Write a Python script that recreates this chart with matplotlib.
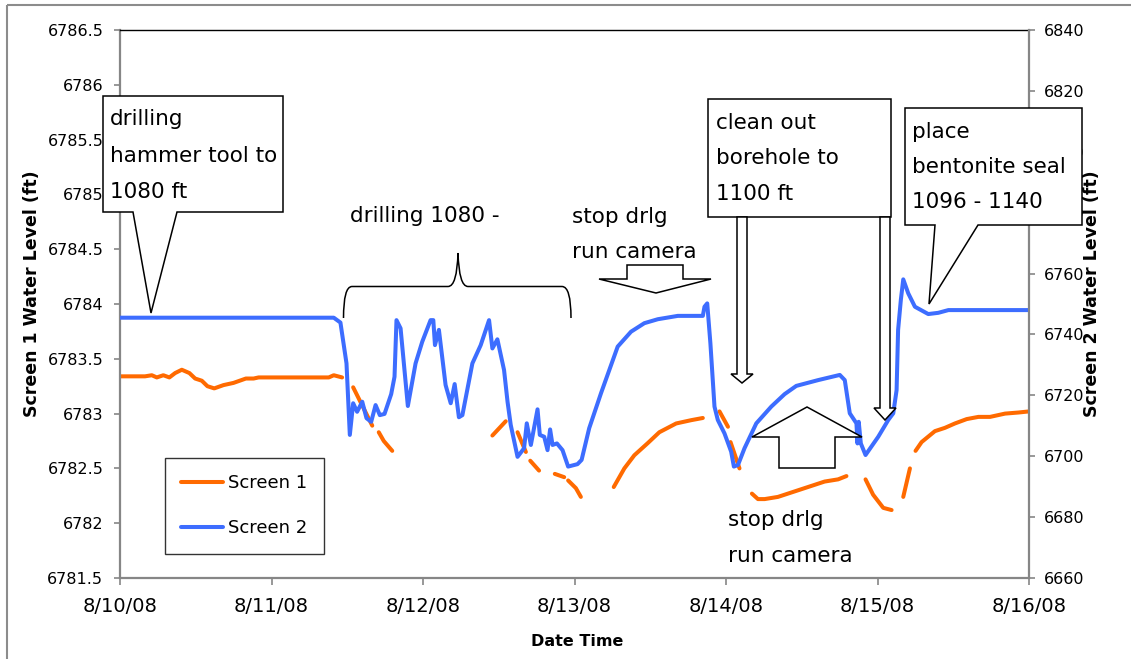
import matplotlib
matplotlib.use('Agg')
import matplotlib.pyplot as plt
import matplotlib.transforms as mtransforms
from matplotlib.patches import Polygon, Rectangle, PathPatch
from matplotlib.path import Path
from matplotlib.ticker import FuncFormatter
import numpy as np
import pandas as pd

# days since 8/10/08 00:00 and water levels
s1_day = [0.000, 0.165, 0.210, 0.243, 0.286, 0.326, 0.364, 0.408, 0.458, 0.496,
          0.540, 0.577, 0.622, 0.683, 0.749, 0.831, 0.882, 0.915, 1.378, 1.411,
          1.466, 1.50, 1.539, 1.665, 1.69, 1.708, 1.741, 1.797, 2.0, 2.458,
          2.546, 2.58, 2.624, 2.679, 2.69, 2.708, 2.766, 2.80, 2.870, 2.932,
          2.94, 2.958, 3.009, 3.042, 3.10, 3.259, 3.329, 3.395, 3.483, 3.560,
          3.671, 3.770, 3.847, 3.90, 3.957, 4.013, 4.02, 4.030, 4.089, 4.13,
          4.171, 4.211, 4.255, 4.343, 4.475, 4.563, 4.651, 4.740, 4.795, 4.85,
          4.921, 4.971, 5.038, 5.093, 5.13, 5.170, 5.214, 5.23, 5.251, 5.291,
          5.379, 5.445, 5.511, 5.589, 5.666, 5.743, 5.842, 5.931, 6.000]
s1_level = [6783.34, 6783.34, 6783.35, 6783.33, 6783.35, 6783.33, 6783.37, 6783.40, 6783.37, 6783.32,
            6783.30, 6783.25, 6783.23, 6783.26, 6783.28, 6783.32, 6783.32, 6783.33, 6783.33, 6783.35,
            6783.33, None, 6783.24, 6782.89, None, 6782.83, 6782.75, 6782.66, None, 6782.80,
            6782.93, None, 6782.83, 6782.65, None, 6782.57, 6782.48, None, 6782.45, 6782.42,
            None, 6782.39, 6782.32, 6782.24, None, 6782.33, 6782.50, 6782.62, 6782.73, 6782.83,
            6782.91, 6782.94, 6782.96, None, 6783.02, 6782.88, None, 6782.74, 6782.50, None,
            6782.27, 6782.22, 6782.22, 6782.24, 6782.30, 6782.34, 6782.38, 6782.40, 6782.43, None,
            6782.40, 6782.26, 6782.14, 6782.12, None, 6782.24, 6782.50, None, 6782.66, 6782.74,
            6782.84, 6782.87, 6782.91, 6782.95, 6782.97, 6782.97, 6783.00, 6783.01, 6783.02]

s2_day = [0.000, 1.411, 1.455, 1.495, 1.517, 1.539, 1.565, 1.599, 1.627, 1.658,
          1.687, 1.715, 1.746, 1.790, 1.812, 1.825, 1.852, 1.900, 1.951, 1.995,
          2.050, 2.068, 2.079, 2.105, 2.149, 2.183, 2.209, 2.237, 2.260, 2.326,
          2.381, 2.436, 2.458, 2.491, 2.535, 2.558, 2.579, 2.624, 2.667, 2.685,
          2.712, 2.756, 2.771, 2.800, 2.822, 2.839, 2.855, 2.884, 2.921, 2.958,
          3.020, 3.047, 3.097, 3.175, 3.285, 3.373, 3.461, 3.550, 3.682, 3.847,
          3.858, 3.876, 3.897, 3.924, 3.946, 3.990, 4.034, 4.052, 4.079, 4.122,
          4.200, 4.299, 4.387, 4.464, 4.608, 4.751, 4.784, 4.817, 4.861, 4.868,
          4.876, 4.890, 4.921, 5.005, 5.071, 5.104, 5.126, 5.136, 5.154, 5.170,
          5.203, 5.247, 5.335, 5.401, 5.468, 6.000]
s2_level = [6745.5, 6745.5, 6743.9, 6730.5, 6707.0, 6717.4, 6714.6, 6717.9, 6712.5, 6711.3,
            6716.8, 6713.5, 6713.9, 6720.4, 6726.1, 6744.7, 6742.0, 6716.5, 6730.5, 6737.6,
            6744.7, 6744.7, 6736.5, 6741.5, 6723.4, 6717.4, 6723.7, 6712.8, 6713.5, 6730.5,
            6736.5, 6744.7, 6735.4, 6738.4, 6728.3, 6717.9, 6710.3, 6699.8, 6702.6, 6710.8,
            6703.7, 6715.4, 6707.0, 6706.4, 6702.0, 6708.8, 6703.7, 6704.2, 6702.0, 6696.6,
            6697.4, 6698.8, 6709.2, 6720.7, 6736.0, 6740.9, 6743.7, 6745.0, 6746.1, 6746.1,
            6749.1, 6750.2, 6737.1, 6716.3, 6711.9, 6707.5, 6701.5, 6696.6, 6697.1, 6702.6,
            6710.8, 6716.3, 6720.4, 6723.1, 6725.0, 6726.7, 6725.0, 6714.1, 6710.8, 6704.2,
            6711.3, 6704.2, 6700.4, 6706.4, 6711.9, 6714.1, 6721.7, 6741.5, 6751.3, 6758.1,
            6753.5, 6749.1, 6746.7, 6747.1, 6748.0, 6748.0]

x_tick_labels = ['8/10/08', '8/11/08', '8/12/08', '8/13/08', '8/14/08', '8/15/08', '8/16/08']

W, H = 1131, 659
ORANGE = '#FF6A00'
BLUE = '#3D6DFF'
GRAY = '#868686'

fig = plt.figure(figsize=(W / 100, H / 100), dpi=100)
# pixel coordinates with y going down, for the drawn-on shapes
pix = mtransforms.Affine2D().scale(1 / W, -1 / H).translate(0, 1) + fig.transFigure

ax = fig.add_axes([120 / W, 1 - 578 / H, 909 / W, 548 / H])
ax2 = ax.twinx()

start = pd.Timestamp('2008-08-10')
t1 = start + pd.to_timedelta(np.array(s1_day), unit='D')
t2 = start + pd.to_timedelta(np.array(s2_day), unit='D')

l1, = ax.plot(t1, np.array(s1_level, dtype=float), color=ORANGE, lw=2.9,
              solid_capstyle='round', solid_joinstyle='round', label='Screen 1')
l2, = ax2.plot(t2, s2_level, color=BLUE, lw=2.9,
               solid_capstyle='round', solid_joinstyle='round', label='Screen 2')

ax.set_xlim(start, start + pd.Timedelta(days=6))
ax.set_xticks(pd.date_range(start, periods=7, freq='D'))
ax.set_xticklabels(x_tick_labels)
ax.set_ylim(6781.5, 6786.5)
ax.set_yticks(np.arange(6781.5, 6786.51, 0.5))
ax.yaxis.set_major_formatter(FuncFormatter(lambda v, p: '%g' % v))
ax2.set_ylim(6660, 6840)
ax2.set_yticks(np.arange(6660, 6841, 20))

for s in ['left', 'bottom']:
    ax.spines[s].set_color(GRAY)
    ax.spines[s].set_linewidth(1.6)
ax.spines['right'].set_visible(False)
ax.spines['top'].set_color('black')
ax.spines['top'].set_linewidth(1.0)
for s in ['left', 'bottom', 'top']:
    ax2.spines[s].set_visible(False)
ax2.spines['right'].set_color(GRAY)
ax2.spines['right'].set_linewidth(1.6)

ax.tick_params(axis='y', length=4, width=1.2, color=GRAY, labelsize=11.5, pad=8)
ax.tick_params(axis='x', length=5, width=1.2, color=GRAY, labelsize=14, pad=9)
ax2.tick_params(axis='y', length=4, width=1.2, color=GRAY, labelsize=11.5, pad=7)

ax.set_ylabel('Screen 1 Water Level (ft)', fontsize=12.5, fontweight='bold')
ax2.set_ylabel('Screen 2 Water Level (ft)', fontsize=12.5, fontweight='bold')
ax.set_xlabel('Date Time', fontsize=11.5, fontweight='bold')
ax.yaxis.set_label_coords(-0.0968, 0.518)
ax2.yaxis.set_label_coords(1.0693, 0.518)
ax.xaxis.set_label_coords(0.503, -0.115)
ax.yaxis.label.set_va('center')
ax2.yaxis.label.set_va('center')
ax.xaxis.label.set_va('center')

leg = ax2.legend([l1, l2], ['Screen 1', 'Screen 2'], loc='upper left',
                 bbox_to_anchor=(165, 458), bbox_transform=pix, borderaxespad=0,
                 fontsize=13, fancybox=False, frameon=True, handlelength=2.3,
                 handletextpad=0.3, labelspacing=1.5, borderpad=0.9)
leg.get_frame().set_edgecolor('black')
leg.get_frame().set_linewidth(1.0)

# outer chart-area border
fig.add_artist(Rectangle((7, 5), 1300, 800, transform=pix, fill=False,
                         edgecolor='#8c8c8c', lw=1.5))


def shape(points):
    fig.add_artist(Polygon(points, closed=True, transform=pix, facecolor='white',
                           edgecolor='black', lw=1.1, zorder=5))


# callouts
shape([(103, 96), (283, 96), (283, 212), (177, 212), (151, 313), (133, 212), (103, 212)])
shape([(905, 108), (1082, 108), (1082, 225), (978, 225), (929, 304), (935, 225), (905, 225)])
shape([(708, 99), (891, 99), (891, 217), (708, 217)])
# block arrows
shape([(737, 217), (747, 217), (747, 374), (753, 374), (742, 383), (731, 374), (737, 374)])
shape([(880, 217), (890, 217), (890, 408), (896, 408), (885, 420), (874, 408), (880, 408)])
shape([(627, 265), (683, 265), (683, 279), (711, 279), (656, 293), (599, 279), (627, 279)])
shape([(807, 407), (862, 437), (835, 437), (835, 468), (779, 468), (779, 437), (752, 437)])

# brace over the drilling period
verts = [(343.5, 318), (343.5, 286.5), (352, 286.5), (448, 286.5), (457, 286.5), (458, 253),
         (459, 286.5), (468, 286.5), (562, 286.5), (571, 286.5), (571, 318)]
codes = [Path.MOVETO, Path.CURVE3, Path.CURVE3, Path.LINETO, Path.CURVE3, Path.CURVE3,
         Path.CURVE3, Path.CURVE3, Path.LINETO, Path.CURVE3, Path.CURVE3]
fig.add_artist(PathPatch(Path(verts, codes), transform=pix, fill=False,
                         edgecolor='black', lw=1.1, zorder=5))

notes = [('drilling', 110, 119), ('hammer tool to', 110, 156), ('1080 ft', 110, 192),
         ('drilling 1080 -', 350, 216),
         ('stop drlg', 572, 217), ('run camera', 572, 252),
         ('clean out', 716, 123), ('borehole to', 716, 158), ('1100 ft', 716, 194),
         ('place', 912, 132), ('bentonite seal', 912, 167), ('1096 - 1140', 912, 202),
         ('stop drlg', 728, 520), ('run camera', 728, 556)]
for s, x, y in notes:
    fig.text(x, y, s, transform=pix, fontsize=15.5, ha='left', va='center', zorder=6)

fig.savefig('out.png', dpi=100)
